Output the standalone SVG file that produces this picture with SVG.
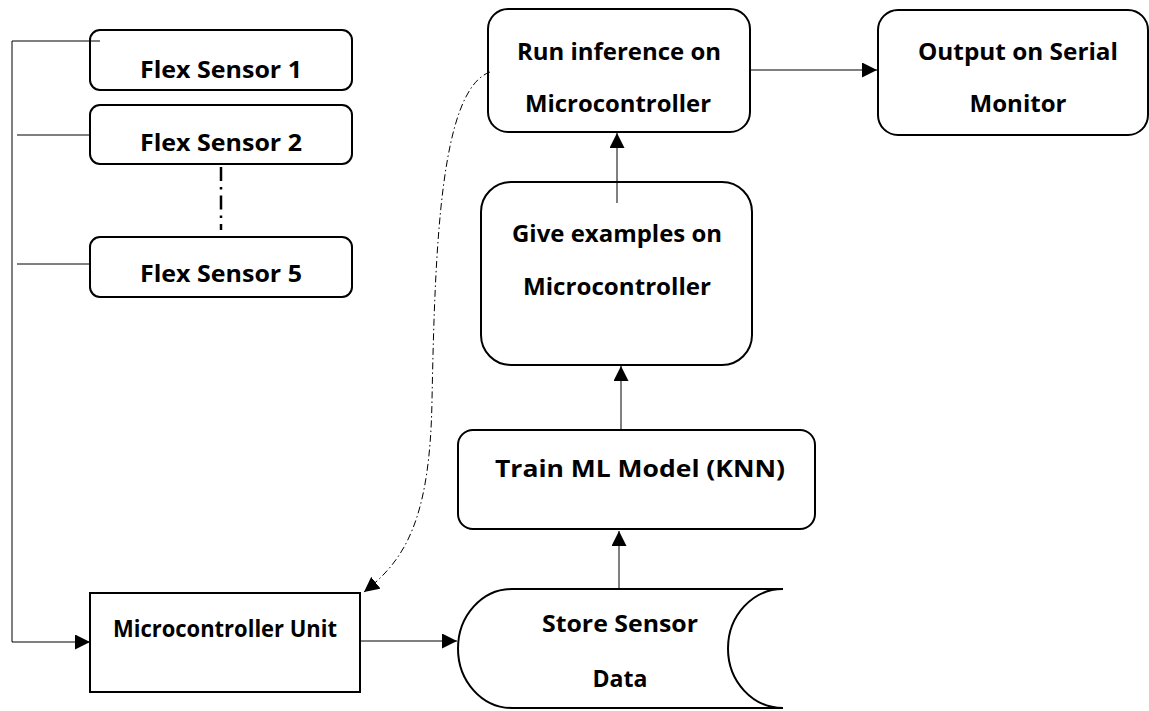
<svg xmlns="http://www.w3.org/2000/svg" width="1149" height="711" viewBox="0 0 1149 711">
  <style>
    .box { fill: #ffffff; stroke: #000000; stroke-width: 2; }
    .lbl { font-family: "Open Sans", Lato, sans-serif; font-weight: bold; font-size: 24px; fill: #000000; text-anchor: middle; }
    .wire { fill: none; stroke: #000000; stroke-width: 1; }
  </style>
  <defs>
    <marker id="arrow" viewBox="0 0 15 15" refX="15" refY="7.5" markerWidth="15" markerHeight="15" markerUnits="userSpaceOnUse" orient="auto">
      <path d="M0,0 L15,7.5 L0,15 Z" fill="#000000"/>
    </marker>
  </defs>
  <rect width="1149" height="711" fill="#ffffff"/>

  <g id="flex1">
    <rect class="box" x="90" y="30" width="262" height="60" rx="10"/>
    <text class="lbl" x="221" y="78" textLength="162" lengthAdjust="spacingAndGlyphs">Flex Sensor 1</text>
  </g>
  <g id="flex2">
    <rect class="box" x="90" y="105" width="262" height="59" rx="10"/>
    <text class="lbl" x="221" y="151" textLength="162" lengthAdjust="spacingAndGlyphs">Flex Sensor 2</text>
  </g>
  <g id="flex5">
    <rect class="box" x="90" y="237" width="262" height="60" rx="10"/>
    <text class="lbl" x="221" y="282" textLength="162" lengthAdjust="spacingAndGlyphs">Flex Sensor 5</text>
  </g>
  <g id="mcu">
    <rect class="box" x="90" y="593" width="270" height="99"/>
    <text class="lbl" x="225" y="637" textLength="224" lengthAdjust="spacingAndGlyphs">Microcontroller Unit</text>
  </g>
  <g id="store">
    <path class="box" d="M783,589 H512 A54,59.5 0 0 0 512,708 H783 A55,59.5 0 0 1 783,589 Z"/>
    <text class="lbl" x="620" y="632" textLength="156" lengthAdjust="spacingAndGlyphs">Store Sensor</text>
    <text class="lbl" x="620" y="687" textLength="55" lengthAdjust="spacingAndGlyphs">Data</text>
  </g>
  <g id="train">
    <rect class="box" x="458" y="430" width="357" height="99" rx="15"/>
    <text class="lbl" x="640" y="477" textLength="290" lengthAdjust="spacingAndGlyphs">Train ML Model (KNN)</text>
  </g>
  <g id="give">
    <rect class="box" x="481" y="182" width="271" height="183" rx="30"/>
    <text class="lbl" x="617" y="242" textLength="210" lengthAdjust="spacingAndGlyphs">Give examples on</text>
    <text class="lbl" x="617" y="295" textLength="188" lengthAdjust="spacingAndGlyphs">Microcontroller</text>
  </g>
  <g id="run">
    <rect class="box" x="488" y="9" width="262" height="123" rx="20"/>
    <text class="lbl" x="619" y="60" textLength="204" lengthAdjust="spacingAndGlyphs">Run inference on</text>
    <text class="lbl" x="618" y="112" textLength="186" lengthAdjust="spacingAndGlyphs">Microcontroller</text>
  </g>
  <g id="output">
    <rect class="box" x="878" y="10" width="270" height="125" rx="20"/>
    <text class="lbl" x="1018" y="60" textLength="200" lengthAdjust="spacingAndGlyphs">Output on Serial</text>
    <text class="lbl" x="1018" y="112" textLength="97" lengthAdjust="spacingAndGlyphs">Monitor</text>
  </g>

  <g id="connectors">
    <!-- sensor bus into the MCU -->
    <path class="wire" d="M100,41 H12 V642 H90" marker-end="url(#arrow)"/>
    <path class="wire" d="M17,135 H90"/>
    <path class="wire" d="M17,264 H90"/>
    <!-- ellipsis between sensor 2 and sensor 5 -->
    <path d="M221,167 V230" fill="none" stroke="#000000" stroke-width="2.5" stroke-dasharray="14,6,2.5,6"/>
    <!-- data flow -->
    <path class="wire" d="M360,641 H457" marker-end="url(#arrow)"/>
    <path class="wire" d="M619,589 V531" marker-end="url(#arrow)"/>
    <path class="wire" d="M621,430 V366" marker-end="url(#arrow)"/>
    <path class="wire" d="M617,203 V133" marker-end="url(#arrow)"/>
    <path class="wire" d="M750,70 H877" marker-end="url(#arrow)"/>
    <!-- deployment back to the MCU -->
    <path class="wire" d="M490,72 C440,90 435,250 432,400 C430,520 405,560 364,592" stroke-dasharray="7,3,1.5,3" marker-end="url(#arrow)"/>
  </g>
</svg>
